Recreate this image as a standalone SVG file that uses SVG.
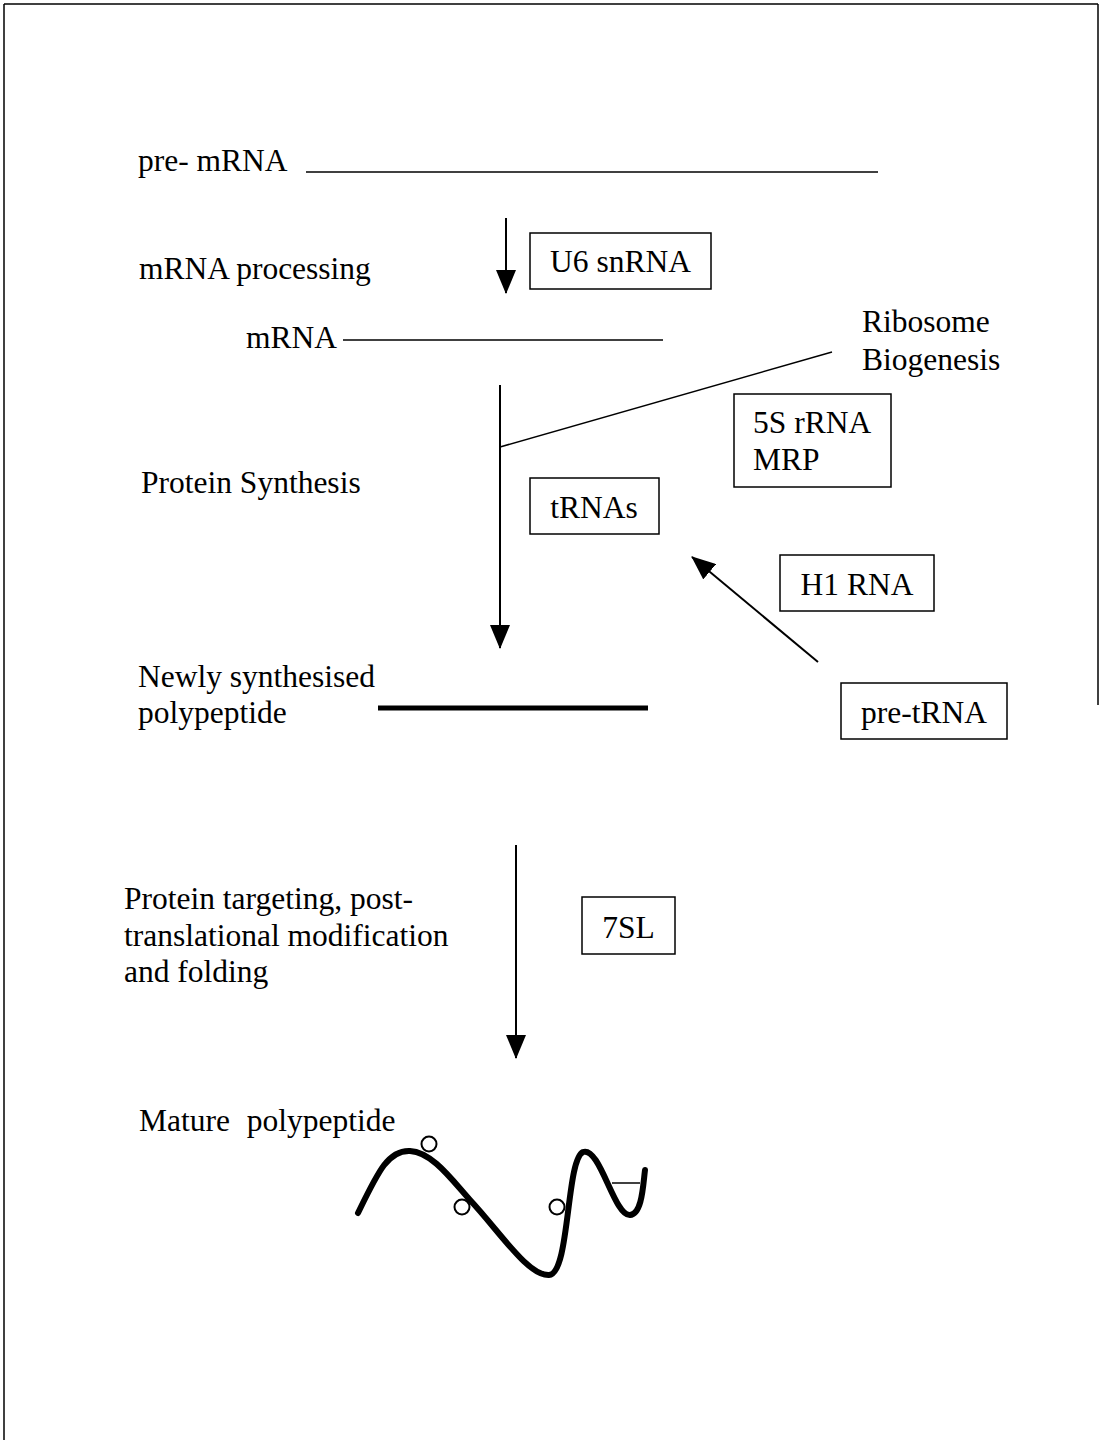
<svg xmlns="http://www.w3.org/2000/svg" width="1100" height="1440" viewBox="0 0 1100 1440">
<style>
text { font-family: "Liberation Serif", "Times New Roman", serif; font-size: 31.5px; fill: #000; }
.box { fill: #fff; stroke: #000; stroke-width: 1.5; }
.ln { stroke: #000; stroke-width: 1.5; fill: none; }
.arr { stroke: #000; stroke-width: 2; fill: none; marker-end: url(#ah2); }
</style>
<defs>
<marker id="ah2" markerUnits="userSpaceOnUse" markerWidth="24" markerHeight="20" viewBox="0 0 24 20" refX="23" refY="10" orient="auto">
<path d="M0,0 L24,10 L0,20 Z" fill="#000"/>
</marker>
</defs>
<rect x="0" y="0" width="1100" height="1440" fill="#fff"/>
<g id="page-border" class="ln">
<line x1="4" y1="4" x2="1098" y2="4"/>
<line x1="4" y1="4" x2="4" y2="1440"/>
<line x1="1098" y1="4" x2="1098" y2="705"/>
</g>

<g id="connectors">
<line x1="306" y1="172" x2="878" y2="172" class="ln"/>
<line x1="343" y1="340" x2="663" y2="340" class="ln" stroke-width="1.2"/>
<line x1="506" y1="218" x2="506" y2="293" class="arr"/>
<line x1="832" y1="352" x2="500" y2="447" class="ln"/>
<line x1="500" y1="385" x2="500" y2="648" class="arr"/>
<line x1="818" y1="662" x2="692" y2="557" class="arr"/>
<line x1="378" y1="708" x2="648" y2="708" stroke="#000" stroke-width="5"/>
<line x1="516" y1="845" x2="516" y2="1058" class="arr"/>
</g>

<g id="pre-mRNA"><text x="138" y="171">pre- mRNA</text></g>
<g id="mRNA-processing"><text x="139" y="279">mRNA processing</text></g>
<g id="U6-snRNA">
<rect class="box" x="530" y="233" width="181" height="56"/>
<text x="620.5" y="272" text-anchor="middle">U6 snRNA</text>
</g>
<g id="mRNA"><text x="246" y="348">mRNA</text></g>
<g id="ribosome-biogenesis">
<text x="862" y="332">Ribosome</text>
<text x="862" y="370">Biogenesis</text>
</g>
<g id="protein-synthesis"><text x="141" y="493">Protein Synthesis</text></g>
<g id="5S-rRNA-MRP">
<rect class="box" x="734" y="394" width="157" height="93"/>
<text x="753" y="433">5S rRNA</text>
<text x="753" y="470">MRP</text>
</g>
<g id="tRNAs">
<rect class="box" x="530" y="478" width="129" height="56"/>
<text x="594" y="518" text-anchor="middle">tRNAs</text>
</g>
<g id="H1-RNA">
<rect class="box" x="780" y="555" width="154" height="56"/>
<text x="857" y="595" text-anchor="middle">H1 RNA</text>
</g>
<g id="pre-tRNA">
<rect class="box" x="841" y="683" width="166" height="56"/>
<text x="924" y="723" text-anchor="middle">pre-tRNA</text>
</g>
<g id="newly-synthesised">
<text x="138" y="687">Newly synthesised</text>
<text x="138" y="723">polypeptide</text>
</g>
<g id="protein-targeting">
<text x="124" y="909">Protein targeting, post-</text>
<text x="124" y="946">translational modification</text>
<text x="124" y="982">and folding</text>
</g>
<g id="7SL">
<rect class="box" x="582" y="897" width="93" height="57"/>
<text x="628.5" y="938" text-anchor="middle">7SL</text>
</g>
<g id="mature-polypeptide">
<text x="139" y="1131">Mature <tspan dx="9">polypeptide</tspan></text>
<path d="M358,1213 C378,1172 388,1150 410,1151 C432,1152 452,1180 470,1200 C500,1232 528,1276 549,1275 C570,1274 566,1160 583,1152 C600,1146 614,1216 630,1215 C642,1214 643,1186 645,1170" fill="none" stroke="#000" stroke-width="6" stroke-linecap="round"/>
<line x1="612" y1="1183" x2="640" y2="1183" stroke="#000" stroke-width="1.5"/>
<circle cx="429" cy="1144" r="7.5" fill="#fff" stroke="#000" stroke-width="2"/>
<circle cx="462" cy="1207" r="7.5" fill="#fff" stroke="#000" stroke-width="2"/>
<circle cx="557" cy="1207" r="7.5" fill="#fff" stroke="#000" stroke-width="2"/>
</g>
</svg>
